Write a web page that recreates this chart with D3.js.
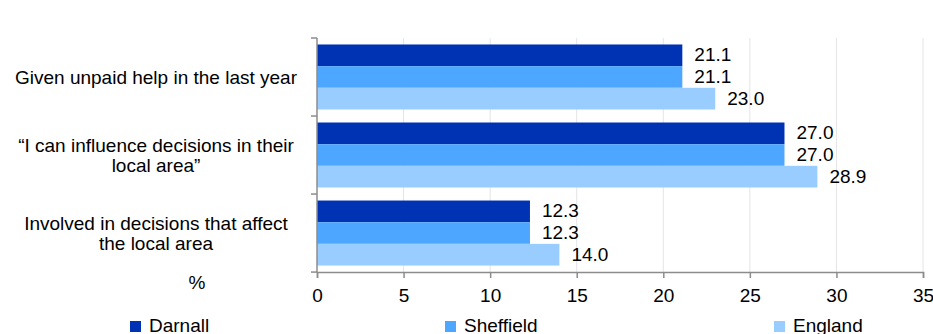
<!DOCTYPE html>
<html>
<head>
<meta charset="utf-8">
<script src="https://cdn.jsdelivr.net/npm/d3@7"></script>
<style>
  body { margin: 0; background: #fff; }
  svg text { font-family: "Liberation Sans", Arial, sans-serif; fill: #000; }
</style>
</head>
<body>
<div id="chart"></div>
<script>
// data
const categories = [
    ["Given unpaid help in the last year"],
    ["\u201cI can influence decisions in their", "local area\u201d"],
    ["Involved in decisions that affect", "the local area"]
];
const seriesNames = ["Darnall", "Sheffield", "England"];
const darnall = [21.1, 27.0, 12.3];
const sheffield = [21.1, 27.0, 12.3];
const england = [23.0, 28.9, 14.0];
const xTicks = [0, 5, 10, 15, 20, 25, 30, 35];
const colors = ["#0033b4", "#4da6ff", "#99ccff"];

const width = 933, height = 334;
const margin = {top: 38, right: 10, bottom: 62, left: 317};

const svg = d3.select("#chart").append("svg")
    .attr("width", width)
    .attr("height", height);

const x = d3.scaleLinear()
    .domain([0, 35])
    .range([margin.left, width - margin.right]);

const y = d3.scaleBand()
    .domain(d3.range(categories.length))
    .range([margin.top, height - margin.bottom])
    .paddingInner(0.167)
    .paddingOuter(0.083);

const ySub = d3.scaleBand()
    .domain(seriesNames)
    .range([0, y.bandwidth()]);

// vertical gridlines
svg.append("g")
    .selectAll("line")
    .data(xTicks.slice(1))
    .enter().append("line")
    .attr("x1", d => x(d)).attr("x2", d => x(d))
    .attr("y1", margin.top).attr("y2", height - margin.bottom)
    .attr("stroke", "#e4e4e4")
    .attr("stroke-width", 1);

// bars
const series = [darnall, sheffield, england];
const rows = [];
categories.forEach(function(c, i) {
    seriesNames.forEach(function(s, j) {
        rows.push({cat: i, name: s, value: series[j][i], color: colors[j]});
    });
});

svg.append("g")
    .selectAll("rect")
    .data(rows)
    .enter().append("rect")
    .attr("x", x(0))
    .attr("y", d => y(d.cat) + ySub(d.name))
    .attr("width", d => x(d.value) - x(0))
    .attr("height", ySub.bandwidth())
    .attr("fill", d => d.color);

// value labels
svg.append("g")
    .selectAll("text")
    .data(rows)
    .enter().append("text")
    .attr("x", d => x(d.value) + 12)
    .attr("y", d => y(d.cat) + ySub(d.name) + ySub.bandwidth() / 2)
    .attr("dy", "0.32em")
    .style("font-size", "19px")
    .text(d => d.value.toFixed(1));

// x axis
const xAxis = svg.append("g")
    .attr("transform", "translate(0," + (height - margin.bottom) + ")")
    .call(d3.axisBottom(x).tickValues(xTicks).tickSize(6).tickPadding(11));
xAxis.select(".domain").attr("stroke", "#8c8c8c").attr("stroke-width", 1.5);
xAxis.selectAll(".tick line").attr("stroke", "#8c8c8c").attr("stroke-width", 1.5);
xAxis.selectAll(".tick text")
    .style("font-size", "19px")
    .style("font-family", "Liberation Sans, Arial, sans-serif")
    .attr("fill", "#000");

// y axis line and ticks at band boundaries
const yAxis = svg.append("g");
yAxis.append("line")
    .attr("x1", x(0)).attr("x2", x(0))
    .attr("y1", margin.top).attr("y2", height - margin.bottom)
    .attr("stroke", "#8c8c8c").attr("stroke-width", 1.5);
const step = y.step();
const boundaries = d3.range(categories.length + 1).map(i => margin.top + i * step);
yAxis.selectAll(".ytick")
    .data(boundaries)
    .enter().append("line")
    .attr("class", "ytick")
    .attr("x1", x(0) - 6).attr("x2", x(0))
    .attr("y1", d => d).attr("y2", d => d)
    .attr("stroke", "#8c8c8c").attr("stroke-width", 1.5);

// category labels
const catLabels = svg.append("g")
    .selectAll("text")
    .data(categories)
    .enter().append("text")
    .attr("text-anchor", "middle")
    .style("font-size", "19px")
    .attr("y", (d, i) => y(i) + y.bandwidth() / 2);

catLabels.selectAll("tspan")
    .data(d => d.map(function(line, k) { return {line: line, k: k, n: d.length}; }))
    .enter().append("tspan")
    .attr("x", 156)
    .attr("dy", d => d.k === 0 ? ((-(d.n - 1) * 10) + 6.7) + "px" : "20px")
    .text(d => d.line);

// unit label
svg.append("text")
    .attr("x", 197)
    .attr("y", 289)
    .attr("text-anchor", "middle")
    .style("font-size", "19px")
    .text("%");

// legend (cut at the bottom edge, as in the reference)
const legendX = [130, 445, 774];
const legend = svg.append("g")
    .selectAll("g")
    .data(seriesNames)
    .enter().append("g")
    .attr("transform", (d, i) => "translate(" + legendX[i] + ",321)");
legend.append("rect")
    .attr("width", 11).attr("height", 11)
    .attr("fill", (d, i) => colors[i]);
legend.append("text")
    .attr("x", 19)
    .attr("y", 11)
    .style("font-size", "19px")
    .text(d => d);
</script>
</body>
</html>
